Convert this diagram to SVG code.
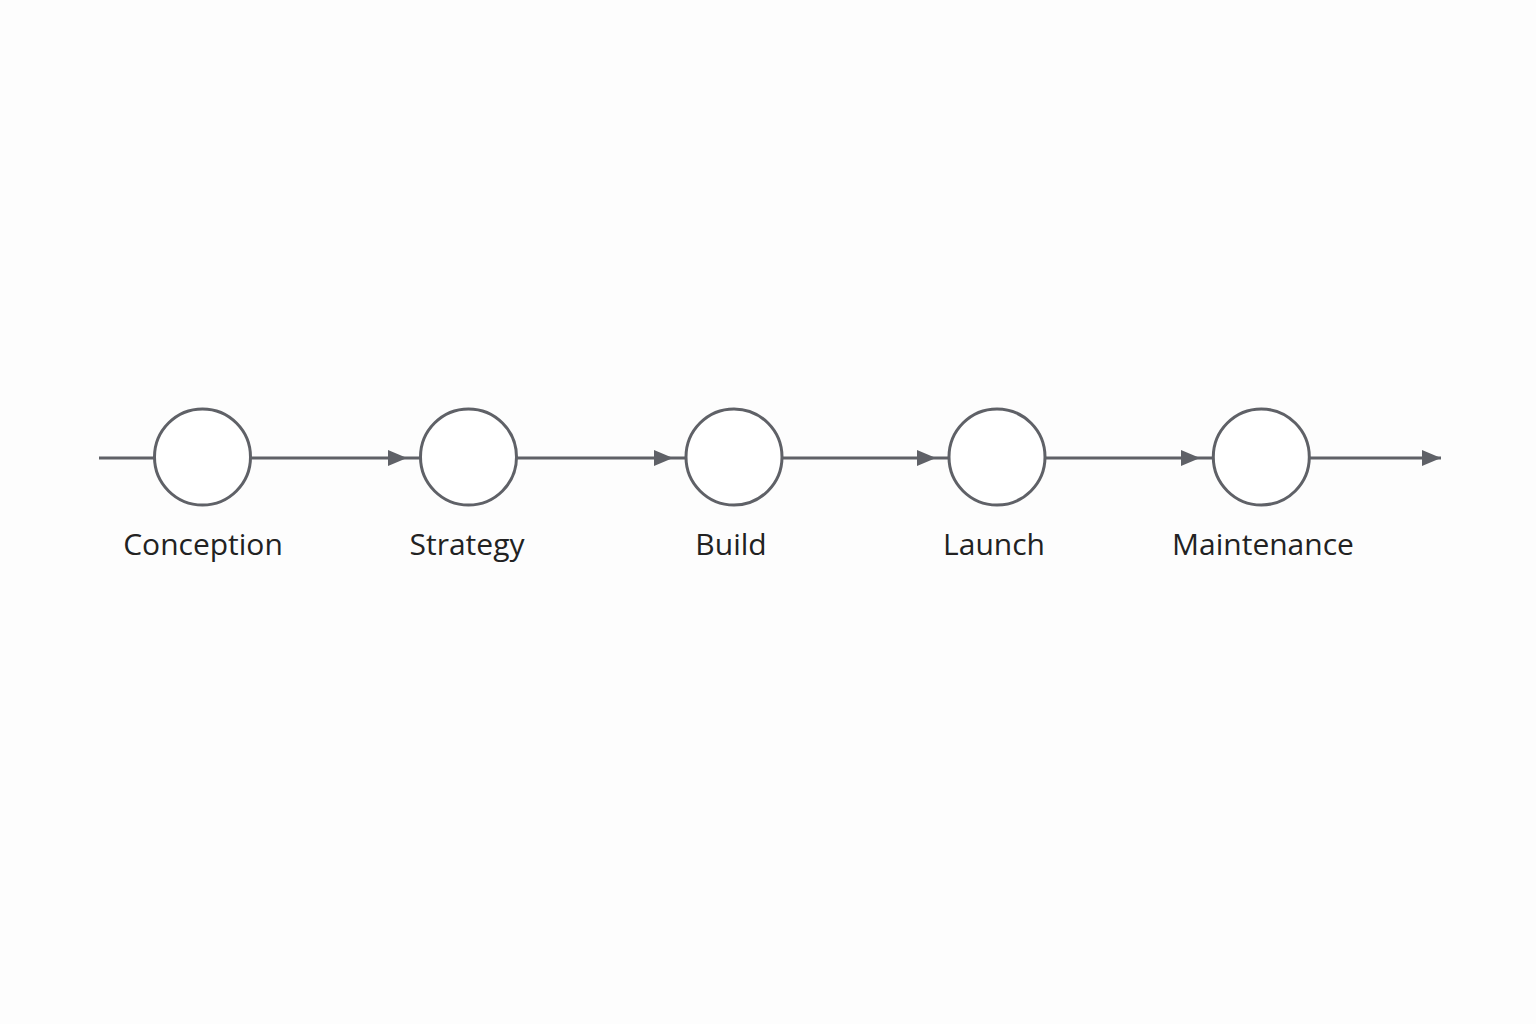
<svg xmlns="http://www.w3.org/2000/svg" width="1536" height="1024" viewBox="0 0 1536 1024">
<style>
.node circle{fill:#fff;stroke:#5f6167;stroke-width:3}
.node text{font-family:"Open Sans","Noto Sans",sans-serif;font-size:30px;fill:#222;text-anchor:middle}
.conn path{fill:none;stroke:#5f6167;stroke-width:3}
</style>
<defs>
<marker id="arr" markerUnits="userSpaceOnUse" markerWidth="19" markerHeight="17" refX="19" refY="8.5" orient="auto" viewBox="0 0 19 17">
<path d="M0,0.5 L19,8.5 L0,16.5 z" fill="#5f6167"/>
</marker>
</defs>
<rect width="1536" height="1024" fill="#fdfdfd"/>
<g id="connectors" class="conn">
<path d="M99,458 H154"/>
<path d="M250,458 H407 H421" marker-mid="url(#arr)"/>
<path d="M516,458 H673 H687" marker-mid="url(#arr)"/>
<path d="M782,458 H936 H950" marker-mid="url(#arr)"/>
<path d="M1045,458 H1200 H1214" marker-mid="url(#arr)"/>
<path d="M1309,458 H1441" marker-end="url(#arr)"/>
</g>
<g id="conception" class="node"><circle cx="202.5" cy="457" r="48"/><text x="203" y="555">Conception</text></g>
<g id="strategy" class="node"><circle cx="468.5" cy="457" r="48"/><text x="467" y="555">Strategy</text></g>
<g id="build" class="node"><circle cx="734" cy="457" r="48"/><text x="731" y="555">Build</text></g>
<g id="launch" class="node"><circle cx="997" cy="457" r="48"/><text x="994" y="555">Launch</text></g>
<g id="maintenance" class="node"><circle cx="1261.3" cy="457" r="48"/><text x="1263" y="555">Maintenance</text></g>
</svg>
